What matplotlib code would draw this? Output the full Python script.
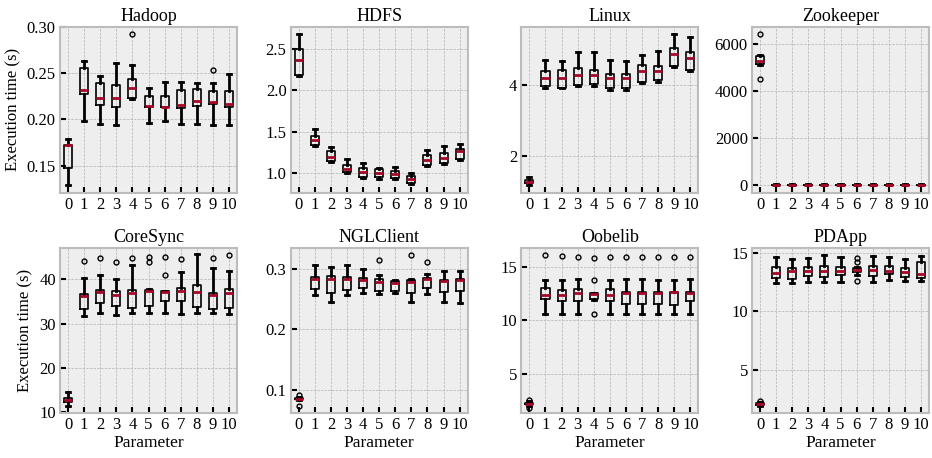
import matplotlib
matplotlib.use("Agg")
import matplotlib.pyplot as plt

plt.style.use("bmh")
plt.rcParams["font.family"] = ["Liberation Serif", "DejaVu Serif"]
plt.rcParams["font.size"] = 12

params = list(range(11))

# each row: whisker low, q1, median, q3, whisker high
hadoop = [
    [0.129, 0.1475, 0.1727, 0.1727, 0.1788],
    [0.1986, 0.228, 0.232, 0.2558, 0.2633],
    [0.195, 0.2155, 0.223, 0.2392, 0.2471],
    [0.1942, 0.2137, 0.223, 0.2374, 0.2615],
    [0.2222, 0.223, 0.2345, 0.2435, 0.259],
    [0.196, 0.214, 0.2147, 0.2255, 0.2345],
    [0.1986, 0.213, 0.2137, 0.2255, 0.241],
    [0.195, 0.2122, 0.2155, 0.232, 0.2406],
    [0.195, 0.2147, 0.2201, 0.2335, 0.2392],
    [0.1942, 0.2162, 0.219, 0.231, 0.2392],
    [0.1942, 0.2137, 0.2166, 0.2313, 0.249],
]
hadoop_fliers = {4: [0.292], 9: [0.254]}

hdfs = [
    [2.166, 2.186, 2.367, 2.50, 2.673],
    [1.334, 1.346, 1.406, 1.454, 1.535],
    [1.137, 1.153, 1.201, 1.273, 1.322],
    [1.004, 1.016, 1.056, 1.105, 1.173],
    [0.94, 0.96, 1.012, 1.064, 1.125],
    [0.928, 0.952, 1.008, 1.052, 1.068],
    [0.928, 0.94, 0.992, 1.032, 1.072],
    [0.867, 0.883, 0.936, 0.972, 1.004],
    [1.093, 1.105, 1.161, 1.221, 1.28],
    [1.113, 1.125, 1.185, 1.245, 1.334],
    [1.157, 1.173, 1.269, 1.298, 1.354],
]
hdfs_fliers = {}

linux = [
    [1.206, 1.243, 1.29, 1.336, 1.42],
    [3.907, 3.963, 4.187, 4.393, 4.71],
    [3.907, 3.916, 4.187, 4.411, 4.682],
    [3.98, 4.0, 4.29, 4.477, 4.916],
    [3.98, 4.019, 4.29, 4.411, 4.916],
    [3.869, 3.916, 4.187, 4.318, 4.71],
    [3.869, 3.907, 4.187, 4.318, 4.682],
    [4.056, 4.075, 4.402, 4.57, 4.85],
    [4.075, 4.15, 4.402, 4.542, 4.963],
    [4.495, 4.542, 4.879, 5.037, 5.42],
    [4.402, 4.43, 4.766, 4.935, 5.327],
]
linux_fliers = {}

zookeeper = [
    [5110, 5133, 5275, 5474, 5520],
    [5, 10, 15, 20, 30],
    [5, 10, 15, 20, 30],
    [5, 10, 15, 20, 30],
    [5, 10, 15, 20, 30],
    [5, 10, 15, 20, 30],
    [5, 10, 15, 20, 30],
    [5, 10, 15, 20, 30],
    [5, 10, 15, 20, 30],
    [5, 10, 15, 20, 30],
    [5, 10, 15, 20, 30],
]
zookeeper_fliers = {0: [6412, 4526]}

coresync = [
    [11.36, 12.34, 12.8, 13.25, 14.53],
    [31.71, 33.37, 36.23, 36.61, 40.23],
    [32.46, 34.57, 37.21, 37.59, 40.98],
    [31.94, 33.97, 36.46, 37.36, 40.0],
    [32.46, 33.59, 36.99, 37.59, 43.24],
    [32.46, 33.97, 37.36, 37.6, 37.74],
    [32.46, 35.1, 37.21, 37.36, 37.36],
    [32.09, 35.1, 37.36, 37.97, 41.66],
    [32.46, 33.82, 37.14, 38.72, 45.65],
    [32.31, 33.37, 36.38, 36.99, 42.49],
    [32.24, 33.59, 36.99, 37.74, 41.88],
]
coresync_fliers = {1: [44.07], 2: [44.75], 3: [43.99], 4: [44.9], 5: [45.05, 43.84],
                   6: [45.05, 40.98], 7: [44.6], 9: [44.75], 10: [45.43]}

nglclient = [
    [0.083, 0.0845, 0.085, 0.0858, 0.087],
    [0.2558, 0.2668, 0.2823, 0.2862, 0.306],
    [0.2448, 0.2591, 0.2823, 0.2878, 0.3028],
    [0.2558, 0.2641, 0.2823, 0.2862, 0.306],
    [0.2602, 0.2685, 0.2812, 0.2851, 0.2989],
    [0.2575, 0.263, 0.2779, 0.2823, 0.289],
    [0.2591, 0.263, 0.2762, 0.2796, 0.2807],
    [0.2453, 0.2591, 0.2779, 0.2815, 0.2823],
    [0.2575, 0.2685, 0.2823, 0.2851, 0.2917],
    [0.2453, 0.2613, 0.2796, 0.2812, 0.2961],
    [0.2436, 0.263, 0.2812, 0.2834, 0.2961],
]
nglclient_fliers = {0: [0.0917, 0.0724], 5: [0.3144], 7: [0.3221], 8: [0.311]}

oobelib = [
    [2.0, 2.12, 2.2, 2.28, 2.4],
    [10.64, 11.96, 12.34, 13.06, 13.78],
    [10.64, 11.86, 12.34, 12.81, 13.78],
    [10.64, 11.86, 12.52, 12.9, 13.84],
    [11.9, 11.96, 12.43, 12.52, 12.6],
    [10.64, 11.8, 12.37, 12.9, 13.78],
    [10.64, 11.55, 12.52, 12.65, 13.9],
    [10.64, 11.49, 12.59, 12.65, 13.9],
    [10.64, 11.55, 12.59, 12.68, 13.78],
    [10.64, 11.43, 12.68, 12.68, 13.78],
    [10.64, 11.86, 12.59, 12.68, 13.9],
]
oobelib_fliers = {0: [2.55, 1.75], 1: [16.1], 2: [16.0], 3: [15.94], 4: [15.88, 13.75, 10.64],
                  5: [15.94], 6: [15.97], 7: [15.94], 8: [15.97], 9: [15.94], 10: [15.97]}

pdapp = [
    [1.9, 1.98, 2.06, 2.12, 2.2],
    [12.37, 12.86, 13.29, 13.77, 14.66],
    [12.37, 12.71, 13.43, 13.71, 14.49],
    [12.49, 13.0, 13.43, 13.77, 14.54],
    [12.49, 12.94, 13.43, 13.86, 14.83],
    [12.49, 13.06, 13.43, 13.77, 14.63],
    [13.06, 13.34, 13.51, 13.66, 13.8],
    [12.51, 13.0, 13.51, 13.86, 14.71],
    [12.66, 13.2, 13.43, 13.86, 14.63],
    [12.57, 12.94, 13.37, 13.66, 14.49],
    [12.57, 12.86, 13.2, 14.23, 14.71],
]
pdapp_fliers = {0: [2.29], 6: [14.57, 14.2, 12.54]}

titles = ["Hadoop", "HDFS", "Linux", "Zookeeper", "CoreSync", "NGLClient", "Oobelib", "PDApp"]
panels = [hadoop, hdfs, linux, zookeeper, coresync, nglclient, oobelib, pdapp]
fliers = [hadoop_fliers, hdfs_fliers, linux_fliers, zookeeper_fliers,
          coresync_fliers, nglclient_fliers, oobelib_fliers, pdapp_fliers]
ylims = [(0.121, 0.30), (0.77, 2.76), (0.99, 5.62), (-313, 6725),
         (9.85, 47.16), (0.061, 0.335), (1.30, 16.82), (1.29, 15.43)]
yticks = [[0.15, 0.20, 0.25, 0.30], [1.0, 1.5, 2.0, 2.5], [2, 4], [0, 2000, 4000, 6000],
          [10, 20, 30, 40], [0.1, 0.2, 0.3], [5, 10, 15], [5, 10, 15]]

fig, axes = plt.subplots(2, 4, figsize=(9.32, 4.58), dpi=100)
fig.subplots_adjust(left=0.0644, right=0.9968, top=0.941, bottom=0.098, wspace=0.303, hspace=0.333)

for i, ax in enumerate(axes.flat):
    stats = []
    for j, (lo, q1, med, q3, hi) in enumerate(panels[i]):
        stats.append(dict(whislo=lo, q1=q1, med=med, q3=q3, whishi=hi,
                          fliers=fliers[i].get(j, [])))
    ax.bxp(stats, positions=params, widths=0.5,
           boxprops=dict(color="black", linewidth=1.2),
           whiskerprops=dict(color="black", linewidth=2),
           capprops=dict(color="black", linewidth=2),
           medianprops=dict(color="#A60628", linewidth=2),
           flierprops=dict(marker="o", markersize=3.5, markerfacecolor="none",
                           markeredgecolor="black", markeredgewidth=1))
    ax.set_title(titles[i], fontsize=13, pad=4)
    ax.set_ylim(ylims[i])
    ax.set_yticks(yticks[i])
    ax.set_xlim(-0.5, 10.5)
    ax.set_xticks(params)
    ax.set_xticklabels([str(p) for p in params])
    ax.tick_params(axis="both", direction="in", length=4, width=1.5, color="black",
                   labelsize=12, pad=3)
    ax.grid(True, color="#b2b2b2", linestyle="--", linewidth=0.5)
    for s in ax.spines.values():
        s.set_color("#bcbcbc")
        s.set_linewidth(1.5)
    if i % 4 == 0:
        ax.set_ylabel("Execution time (s)", fontsize=12)
    if i >= 4:
        ax.set_xlabel("Parameter", fontsize=12.5, labelpad=1)

fig.savefig("out.png", dpi=100)
